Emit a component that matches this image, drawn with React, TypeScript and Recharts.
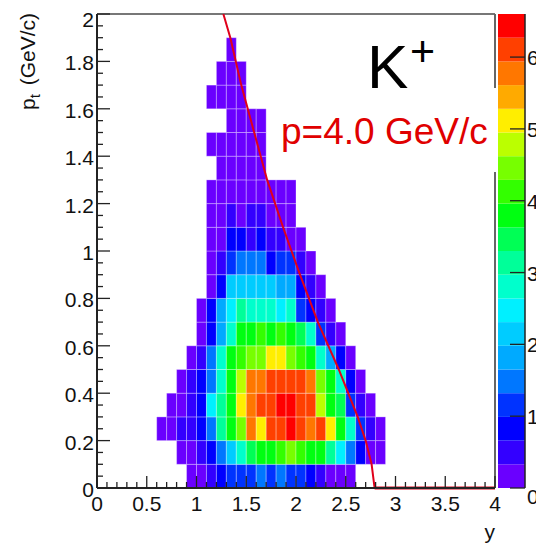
import { Bar, ComposedChart, Line, ReferenceArea, ReferenceLine, XAxis, YAxis } from 'recharts'

const FONT = '"Liberation Sans", Arial, Helvetica, sans-serif'

// p_t rows, 0.1 GeV/c each; y columns are 0.1 wide
const ptRowLow = [0, 0.1, 0.2, 0.3, 0.4, 0.5, 0.6, 0.7, 0.8, 0.9, 1.0, 1.1, 1.2, 1.3, 1.4, 1.5, 1.6, 1.7, 1.8]
// y (rapidity) of the first filled cell in each row
const rowFirstY = [0.9, 0.8, 0.6, 0.7, 0.8, 0.9, 1.0, 1.0, 1.1, 1.1, 1.1, 1.1, 1.1, 1.2, 1.1, 1.3, 1.1, 1.2, 1.3]

const zPt00 = [0.16, 0.2, 0.5, 0.83, 1.15, 1.2, 1.1, 1.5, 1.2, 1.45, 1.15, 1.1, 0.85, 0.5, 0.25, 0.2, 0.1]
const zPt01 = [0.15, 0.3, 0.5, 0.85, 1.5, 2.15, 2.8, 3.5, 3.8, 3.85, 4.1, 4.4, 4.1, 3.8, 3.75, 3.1, 2.5, 1.5, 0.85, 0.25, 0.1]
const zPt02 = [0.1, 0.2, 0.4, 0.55, 0.85, 1.5, 3.1, 3.8, 4.4, 5.8, 5.1, 6.1, 6.1, 6.45, 6.1, 5.8, 6.1, 5.1, 3.8, 2.8, 1.15, 0.5, 0.2]
const zPt03 = [0.15, 0.25, 0.5, 0.85, 2.5, 3.1, 3.8, 5.1, 5.8, 6.1, 6.15, 6.45, 6.5, 6.1, 6.0, 4.8, 3.8, 3.5, 1.15, 0.5, 0.2]
const zPt04 = [0.2, 0.5, 0.85, 1.5, 2.8, 3.8, 4.8, 5.8, 5.75, 6.1, 6.1, 6.0, 6.1, 5.8, 4.45, 3.8, 2.8, 0.85, 0.2]
const zPt05 = [0.2, 0.5, 1.5, 2.8, 3.8, 4.1, 4.45, 4.4, 5.1, 5.15, 4.45, 4.1, 3.8, 2.8, 1.8, 0.85, 0.2]
const zPt06 = [0.2, 0.85, 1.8, 2.8, 3.8, 3.85, 4.0, 3.8, 4.0, 3.75, 3.5, 2.8, 1.15, 0.5, 0.2]
const zPt07 = [0.2, 0.85, 1.8, 2.5, 3.1, 2.8, 2.85, 2.8, 2.5, 2.8, 1.15, 0.85, 0.5, 0.2]
const zPt08 = [0.2, 0.85, 2.15, 2.2, 2.1, 2.15, 2.2, 1.8, 1.85, 0.85, 0.5, 0.2]
const zPt09 = [0.2, 0.5, 1.15, 1.5, 1.45, 1.5, 0.85, 1.15, 1.1, 0.5, 0.2]
const zPt10 = [0.25, 0.3, 0.85, 0.8, 0.5, 0.85, 0.5, 0.45, 0.25, 0.2]
const zPt11 = [0.2, 0.3, 0.5, 0.3, 0.5, 0.45, 0.3, 0.2, 0.15]
const zPt12 = [0.15, 0.2, 0.25, 0.3, 0.25, 0.3, 0.2, 0.15, 0.1]
const zPt13 = [0.2, 0.25, 0.3, 0.2, 0.15]
const zPt14 = [0.1, 0.2, 0.25, 0.2, 0.15, 0.1]
const zPt15 = [0.2, 0.25, 0.2, 0.1]
const zPt16 = [0.1, 0.2, 0.2, 0.15]
const zPt17 = [0.15, 0.2, 0.1]
const zPt18 = [0.1]

const zRows = [zPt00, zPt01, zPt02, zPt03, zPt04, zPt05, zPt06, zPt07, zPt08, zPt09,
  zPt10, zPt11, zPt12, zPt13, zPt14, zPt15, zPt16, zPt17, zPt18]

// kinematic limit for p = 4.0 GeV/c
const limitY = [1.27, 1.34, 1.45, 1.58, 1.71, 1.87, 2.04, 2.22, 2.43, 2.62, 2.70, 2.76, 2.79, 4.0]
const limitPt = [2.0, 1.9, 1.7, 1.5, 1.3, 1.1, 0.9, 0.7, 0.5, 0.3, 0.2, 0.1, 0.0, 0.0]

const palette = ['#6a00ff', '#3300ff', '#0000ff', '#0033ff', '#0077ff', '#00aaff', '#00ccff', '#00f0ff',
  '#00ffcc', '#00ff99', '#00ff55', '#00ff11', '#33ff00', '#77ff00', '#bbff00', '#ffee00',
  '#ffaa00', '#ff7700', '#ff4000', '#ff0000']
const zMax = 6.6

const xLabels = ['0', '0.5', '1', '1.5', '2', '2.5', '3', '3.5', '4']
const yLabels = ['0', '0.2', '0.4', '0.6', '0.8', '1', '1.2', '1.4', '1.6', '1.8', '2']
const zLabels = ['0', '1', '2', '3', '4', '5', '6']

const xTicks = Array.from({ length: 41 }, (_, i) => i / 10)
const yTicks = Array.from({ length: 41 }, (_, i) => i / 20)
const zTicks = zLabels.map((_, i) => i)
const zStep = zMax / palette.length

const r1 = (v: number) => Math.round(v * 10) / 10
const colorOf = (z: number) => palette[Math.min(palette.length - 1, Math.floor(z / zStep))]

const cells = zRows.flatMap((row, r) =>
  row.map((z, i) => {
    const x1 = r1(rowFirstY[r] + i * 0.1)
    return { x1, x2: r1(x1 + 0.1), y1: ptRowLow[r], y2: r1(ptRowLow[r] + 0.1), z }
  }),
)

const limitData = limitY.map((rap, i) => ({ rap, pt: limitPt[i] }))
const last = limitData.length - 1
// the palette as one stacked column, one segment per colour level
const bandRow: Record<string, number | string> = { name: 'z' }
palette.forEach((_, k) => { bandRow[`b${k}`] = zStep })
const bandData = [bandRow]

const RED = '#e0001a'

function XTick(props: any) {
  const { x, y, payload } = props
  const idx = Math.round(payload.value * 10)
  const major = idx % 5 === 0
  return (
    <g>
      <line x1={x} x2={x} y1={y} y2={y - (major ? 12 : 6)} stroke="#222" strokeWidth={1.3} />
      {major && (
        <text x={x} y={y + 23} textAnchor="middle" fontSize={21} fontFamily={FONT} fill="#111">
          {xLabels[idx / 5]}
        </text>
      )}
    </g>
  )
}

function YTick(props: any) {
  const { x, y, payload } = props
  const idx = Math.round(payload.value * 20)
  const major = idx % 4 === 0
  const label = yLabels[idx / 4]
  return (
    <g>
      <line x1={x} x2={x + (major ? 13 : 6)} y1={y} y2={y} stroke="#222" strokeWidth={1.3} />
      {major && (
        <text x={x - 3} y={y + (label === '2' ? 13 : 9)} textAnchor="end" fontSize={21} fontFamily={FONT} fill="#111">
          {label}
        </text>
      )}
    </g>
  )
}

function ZTick(props: any) {
  const { x, y, payload } = props
  const label = zLabels[payload.value]
  return (
    <g>
      <line x1={x - 15} x2={x} y1={y} y2={y} stroke="#222" strokeWidth={1.3} />
      <text x={x + 2} y={y + (label === '0' ? 16 : 8)} fontSize={21} fontFamily={FONT} fill="#111">
        {label}
      </text>
    </g>
  )
}

export default function App() {
  return (
    <div style={{ position: 'absolute', left: 0, top: 0, width: 536, height: 546, background: '#fff', overflow: 'hidden' }}>
      <div style={{ position: 'absolute', left: 0, top: 0 }}>
        <ComposedChart width={536} height={546} margin={{ top: 14, right: 41, bottom: 0, left: 0 }}>
          <XAxis
            type="number" dataKey="rap" domain={[0, 4]} ticks={xTicks} interval={0}
            tick={(p: any) => <XTick {...p} />} tickLine={false} tickSize={0} tickMargin={0} height={58}
            axisLine={{ stroke: '#222', strokeWidth: 2 }}
          />
          <YAxis
            type="number" dataKey="pt" domain={[0, 2]} ticks={yTicks} interval={0}
            tick={(p: any) => <YTick {...p} />} tickLine={false} tickSize={0} tickMargin={0} width={97}
            axisLine={{ stroke: '#222', strokeWidth: 2 }}
          />
          {cells.map((c, i) => (
            <ReferenceArea
              key={i} x1={c.x1} x2={c.x2} y1={c.y1} y2={c.y2}
              fill={colorOf(c.z)} fillOpacity={1} stroke="#ffffff" strokeOpacity={0.3} strokeWidth={1}
            />
          ))}
          <ReferenceLine y={2} stroke="#777" strokeWidth={2} />
          <ReferenceLine x={4} stroke="#666" strokeWidth={2} />
          <Line
            data={limitData} dataKey="pt" type="linear" stroke={RED} strokeWidth={2}
            dot={false} isAnimationActive={false}
          />
          <ReferenceLine
            segment={[{ x: limitY[last - 1], y: limitPt[last - 1] }, { x: limitY[last], y: limitPt[last] }]}
            stroke={RED} strokeWidth={3} ifOverflow="visible"
          />
        </ComposedChart>
      </div>
      <div style={{ position: 'absolute', left: 0, top: 0 }}>
        <ComposedChart
          data={bandData} width={536} height={546} barCategoryGap={0} barGap={0}
          margin={{ top: 14, right: 0, bottom: 58, left: 498 }}
        >
          <XAxis type="category" dataKey="name" hide />
          <YAxis
            type="number" orientation="right" domain={[0, zMax]} ticks={zTicks} interval={0}
            tick={(p: any) => <ZTick {...p} />} tickLine={false} tickSize={0} tickMargin={0} width={11}
            axisLine={{ stroke: '#222', strokeWidth: 1.5 }}
          />
          {palette.map((c, k) => (
            <Bar key={k} dataKey={`b${k}`} stackId="z" fill={c} isAnimationActive={false} />
          ))}
        </ComposedChart>
      </div>
      <svg width={536} height={546} style={{ position: 'absolute', left: 0, top: 0 }}>
        <rect x={470} y={88} width={27.5} height={84} fill="#fff" />
        <text x={367} y={88} fontSize={62} fontFamily={FONT} fill="#000">K</text>
        <text x={410} y={66} fontSize={43} fontFamily={FONT} fill="#000">+</text>
        <text x={281} y={144} fontSize={37} fontFamily={FONT} fill="#e00000">p=4.0 GeV/c</text>
        <text transform="translate(35,13) rotate(-90)" textAnchor="end" fontSize={21} fontFamily={FONT} fill="#111">
          p<tspan dy={5} fontSize={15}>t</tspan>
          <tspan dx={3} dy={-5} fontSize={21}> (GeV/c)</tspan>
        </text>
        <text x={495} y={539} textAnchor="end" fontSize={21} fontFamily={FONT} fill="#111">y</text>
      </svg>
    </div>
  )
}
